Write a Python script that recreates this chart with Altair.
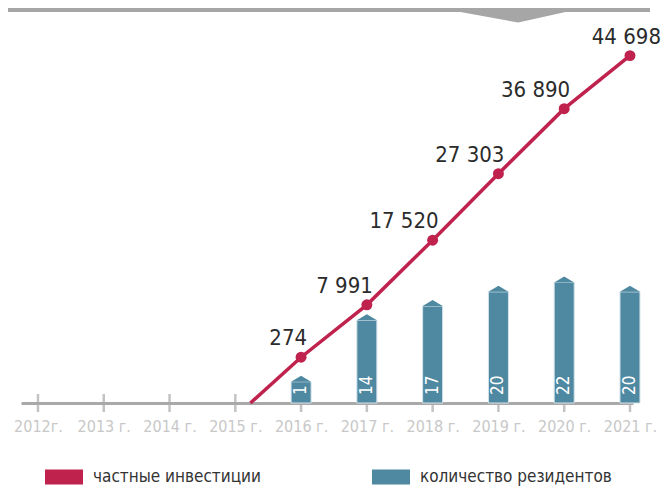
import altair as alt
import pandas as pd

# ---- data ----
years = [2012, 2013, 2014, 2015, 2016, 2017, 2018, 2019, 2020, 2021]
year_labels = ["2012г.", "2013 г.", "2014 г.", "2015 г.", "2016 г.",
               "2017 г.", "2018 г.", "2019 г.", "2020 г.", "2021 г."]
inv_years = [2016, 2017, 2018, 2019, 2020, 2021]
investments = [274, 7991, 17520, 27303, 36890, 44698]
res_years = [2016, 2017, 2018, 2019, 2020, 2021]
residents = [1, 14, 17, 20, 22, 20]
series_names = ["частные инвестиции", "количество резидентов"]
series_colors = ["#c0224e", "#4f88a1"]

# ---- layout / styling constants ----
W, H = 612, 395
X_DOMAIN = [2011.742, 2021.046]
LINE_DOMAIN = [-6466, 51716]
BAR_DOMAIN = [-3.49, 80.0]
LINE_START_YEAR = 2015.23
FONT = "Liberation Sans Narrow, Noto Sans Condensed, DejaVu Sans Condensed, sans-serif"
GREY = "#a9a9a9"

fmt = lambda v: f"{v:,}".replace(",", " ")

df_bars = pd.DataFrame({"year": res_years, "residents": residents,
                        "series": series_names[1]})
df_pts = pd.DataFrame({"year": inv_years, "invest": investments,
                       "series": series_names[0],
                       "label": [fmt(v) for v in investments]})
df_line = pd.DataFrame({"year": [LINE_START_YEAR] + inv_years,
                        "invest": [LINE_DOMAIN[0]] + investments})
df_years = pd.DataFrame({"year": years})
one = pd.DataFrame({"k": [0]})

xscale = alt.Scale(domain=X_DOMAIN, nice=False, zero=False, padding=0)
yline = alt.Scale(domain=LINE_DOMAIN, nice=False, zero=False, padding=0)
ybar = alt.Scale(domain=BAR_DOMAIN, nice=False, zero=False, padding=0)

label_expr = "[" + ",".join(f"'{l}'" for l in year_labels) + f"][datum.value - {years[0]}]"

color = alt.Color(
    "series:N",
    scale=alt.Scale(domain=series_names, range=series_colors),
    legend=alt.Legend(
        orient="none", legendX=24, legendY=450, direction="horizontal",
        title=None, symbolType="M-1,-0.4H1V0.4H-1Z", symbolSize=1444,
        symbolStrokeWidth=0, symbolOpacity=1, labelFontSize=17,
        labelFont=FONT, labelColor="#333333", labelOffset=10,
        columnPadding=111, labelLimit=400,
    ),
)

x_axis = alt.Axis(values=years, labelExpr=label_expr, title=None, ticks=False,
                  grid=False, labelPadding=15, labelFontSize=16,
                  labelColor="#c8c8c8", labelFont=FONT, domainColor=GREY,
                  domainWidth=3, labelAngle=0, labelFlush=False,
                  labelOverlap=False)

base_x = alt.X("year:Q", scale=xscale, axis=x_axis)

axis_layer = alt.Chart(df_years).mark_tick(
    orient="vertical", size=18, thickness=2.5, color=GREY
).encode(x=base_x, y=alt.value(H))

bars = alt.Chart(df_bars).mark_bar(size=20, stroke="#d3e3ea", strokeWidth=1).encode(
    x=base_x,
    y=alt.Y("residents:Q", scale=ybar, axis=None),
    y2=alt.datum(BAR_DOMAIN[0]),
    color=color,
)
caps = alt.Chart(df_bars).mark_point(
    shape="M-1,0L0,-0.6L1,0Z", size=400, filled=True, opacity=1,
    strokeWidth=0, color=series_colors[1]
).encode(x=base_x, y=alt.Y("residents:Q", scale=ybar, axis=None))
bar_labels = alt.Chart(df_bars).mark_text(
    angle=270, align="left", baseline="middle", dx=8, color="white",
    fontSize=17, font=FONT
).encode(x=base_x, y=alt.YDatum(BAR_DOMAIN[0], scale=ybar, axis=None),
         text="residents:Q")

line = alt.Chart(df_line).mark_line(color=series_colors[0], strokeWidth=3.5).encode(
    x=base_x, y=alt.Y("invest:Q", scale=yline, axis=None))
pts = alt.Chart(df_pts).mark_circle(size=120, opacity=1).encode(
    x=base_x, y=alt.Y("invest:Q", scale=yline, axis=None), color=color)
pt_labels = alt.Chart(df_pts.iloc[:-1]).mark_text(
    align="right", baseline="alphabetic", dx=6, dy=-12, fontSize=22,
    font=FONT, color="#2b2b2b"
).encode(x=base_x, y=alt.Y("invest:Q", scale=yline, axis=None), text="label:N")
pt_label_last = alt.Chart(df_pts.iloc[-1:]).mark_text(
    align="right", baseline="alphabetic", dx=31, dy=-12, fontSize=22,
    font=FONT, color="#2b2b2b"
).encode(x=base_x, y=alt.Y("invest:Q", scale=yline, axis=None), text="label:N")

deco_band = alt.Chart(one).mark_rule(color="#a6a6a6", strokeWidth=4).encode(
    x=alt.value(-13), x2=alt.value(629), y=alt.value(2))
deco_notch = alt.Chart(one).mark_point(
    shape="M-1,0L0.1,0.2L1,0Z", size=13225, filled=True, opacity=1,
    strokeWidth=0, color="#a6a6a6"
).encode(x=alt.value(491.5), y=alt.value(3))

chart = alt.layer(
    deco_band, deco_notch, axis_layer, bars, caps, bar_labels,
    line, pts, pt_labels, pt_label_last
).resolve_scale(y="independent").properties(
    width=W, height=H,
    autosize=alt.AutoSizeParams(type="none"),
    padding={"left": 13, "top": 0, "right": 30, "bottom": 83},
).configure_view(stroke=None)

chart.save("out.html", embed_options={"renderer": "svg", "actions": False})
